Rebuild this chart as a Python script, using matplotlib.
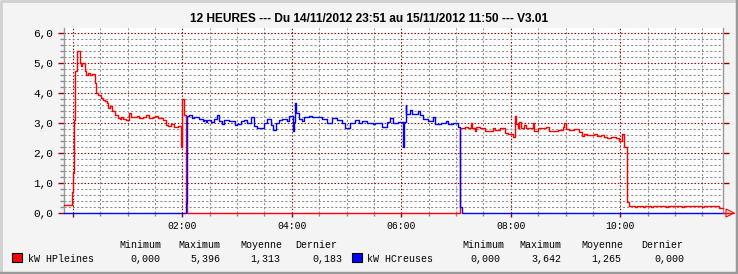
import matplotlib
matplotlib.use('Agg')
import matplotlib.pyplot as plt
import matplotlib.patches as mpatches
from matplotlib.lines import Line2D
from matplotlib.ticker import FixedLocator, FuncFormatter

# ---- data: minutes since 00:00 on 15/11/2012, power in kW (step values) ----
red_t = [-9.8, -0.8, 0.3, 1.4, 2.5, 4.7, 7.5, 9.5, 10.5, 13, 15, 17, 19, 21, 24, 26, 28,
         31, 33, 35, 37, 38.5, 40.5, 43, 46, 49.5, 52, 53, 55, 58.5, 62, 64, 67.5, 70,
         73, 76.5, 80.5, 84, 87.5, 90, 93, 98.5, 102, 104, 108, 111, 115, 118.5, 120,
         122, 124, 125.5,
         424.7, 429.5, 433.1, 436, 437.5, 440.4, 442.2, 445.8, 451.3, 460.4, 462.2,
         467.6, 473.1, 476.7, 482.2, 484.7, 485.8, 487.6, 489.5, 491.3, 494.9, 496.7,
         504, 505.8, 509.5, 518.5, 522.2, 525.8, 531.3, 536.7, 538.6, 540.4, 544, 549.5,
         555, 558.5, 560.4, 564, 571.3, 574.9, 578.5, 582.2, 585.8, 589.4, 594.9, 598.5,
         602.2, 604,
         606.9, 609, 616, 618, 625, 627, 634, 636, 650, 652, 668, 670, 690, 692, 708, 712.5]
red_v = [0.25, 0.71, 1.33, 3.1, 4.71, 5.4, 4.97, 4.88, 4.97, 4.71, 4.6, 4.65, 4.6, 4.63,
         4.32, 3.99, 3.93, 3.82, 3.77, 3.71, 3.66, 3.5, 3.55, 3.38, 3.27, 3.16, 3.12, 3.18,
         3.14, 3.1, 3.32, 3.2, 3.19, 3.24, 3.17, 3.19, 3.27, 3.16, 3.19, 3.22, 3.16, 3.1,
         2.93, 2.9, 2.95, 2.87, 2.9, 2.21, 3.79, 3.27, 0.3, 0.0,
         2.82, 2.87, 2.82, 2.99, 2.82, 2.71, 2.87, 2.82, 2.74, 2.82, 2.77, 2.82, 2.66,
         2.61, 2.52, 3.21, 2.96, 2.82, 3.02, 2.82, 2.93, 2.82, 2.99, 2.71, 2.82, 2.87,
         2.74, 2.71, 2.77, 2.87, 2.99, 2.8, 2.77, 2.79, 2.69, 2.57, 2.61, 2.59, 2.61,
         2.57, 2.59, 2.52, 2.49, 2.52, 2.49, 2.38, 2.61, 2.2,
         0.38, 0.24, 0.2, 0.24, 0.2, 0.24, 0.2, 0.24, 0.2, 0.24, 0.2, 0.24, 0.2, 0.24,
         0.18, 0.18]
blue_t = [-9.8, 124, 125.1, 127.6, 130.6, 133.1, 138.5, 142.2, 144, 145.8, 147.6, 151.3,
          154.9, 158.5, 160.4, 163.3, 165.8, 171.3, 177.8, 180.4, 184, 187.6, 191.3, 194.9,
          198.5, 202.2, 209.5, 213.1, 216.8, 219.3, 222.9, 225.8, 229.4, 234.9, 236.7,
          238.6, 240.8, 242.2, 243.6, 244.7, 247.6, 251.3, 253.1, 258.5, 262.2, 273.1,
          278.5, 284, 289.4, 294.9, 298.5, 304, 309.5, 313.1, 316.7, 322.2, 329.5, 331.3,
          338.5, 344, 347.6, 351.3, 356.7, 361.4, 362.9, 364.7, 365.5, 369.5, 371.3,
          378.5, 380.4, 384, 389.5, 394.9, 396.8, 404, 409.4, 411.3, 416.7, 422.2, 424.7,
          426, 712.5]
blue_v = [0.0, 0.33, 3.23, 3.27, 3.16, 3.2, 3.14, 3.06, 3.1, 3.02, 3.1, 3.02, 3.14, 3.27,
          3.06, 2.97, 3.08, 3.06, 2.92, 2.97, 3.06, 3.1, 3.0, 3.2, 2.88, 2.82, 3.0, 3.14,
          2.94, 2.77, 3.0, 3.08, 3.14, 3.06, 3.23, 3.21, 2.71, 3.04, 3.66, 3.33, 3.14,
          3.07, 3.18, 3.23, 3.18, 3.14, 2.99, 3.16, 3.1, 2.99, 2.84, 2.99, 3.1, 2.99, 3.07,
          2.99, 2.96, 2.99, 2.87, 3.04, 3.16, 2.99, 3.04, 2.21, 3.04, 3.6, 3.29, 3.43,
          3.29, 3.38, 3.26, 3.14, 3.07, 3.18, 2.96, 2.99, 3.07, 2.96, 2.99, 2.87, 0.2,
          0.0, 0.0]

y_ticks = [0, 1, 2, 3, 4, 5, 6]
x_major = [0, 120, 240, 360, 480, 600]
stat_heads = ['Minimum', 'Maximum', 'Moyenne', 'Dernier']
stats_hp = ['0,000', '5,396', '1,313', '0,183']
stats_hc = ['0,000', '3,642', '1,265', '0,000']

W, H = 738, 274
bg = '#f4f4f4'
dark_red = '#960000'
grey = '#8c8c8c'
mono = ['Liberation Mono', 'DejaVu Sans Mono']

fig = plt.figure(figsize=(W / 100, H / 100), dpi=100, facecolor=bg)
ax = fig.add_axes([64 / W, 61 / H, 659 / W, 185 / H])
ax.set_facecolor('white')
ax.set_xlim(-9.6, 712.5)
ax.set_ylim(0, 6.15)

# grid: grey dotted every 0.2 kW / 30 min, dark red dotted on the major steps
y_minor = [i / 5 for i in range(31) if i % 5]
x_minor = [m for m in range(30, 720, 30) if m % 120]
ax.yaxis.set_major_locator(FixedLocator(y_ticks))
ax.yaxis.set_minor_locator(FixedLocator(y_minor))
ax.xaxis.set_major_locator(FixedLocator(x_major))
ax.xaxis.set_minor_locator(FixedLocator(x_minor))
ax.grid(which='minor', color=grey, lw=0.75, ls=(0, (2, 2)))
ax.grid(which='major', color=dark_red, lw=0.8, ls=(0, (1.3, 1.7)))
ax.set_axisbelow(True)

ax.yaxis.set_major_formatter(FuncFormatter(lambda v, p: f'{v:.1f}'.replace('.', ',')))
ax.xaxis.set_major_formatter(FuncFormatter(
    lambda v, p: '' if v <= 0 else f'{int(v // 60):02d}:{int(v % 60):02d}'))

ax.tick_params(axis='y', which='major', color=dark_red, length=4, width=1, right=True,
               labelsize=8, pad=4)
ax.tick_params(axis='y', which='minor', color=grey, length=3, width=1, right=False)
ax.tick_params(axis='x', which='major', color=dark_red, length=3, width=1,
               labelsize=7, pad=3)
ax.tick_params(axis='x', which='minor', color=grey, length=2, width=1)
for lab in ax.get_yticklabels() + ax.get_xticklabels():
    lab.set_family(mono)

for side in ['top', 'bottom']:
    ax.spines[side].set_visible(False)
for side in ['left', 'right']:
    ax.spines[side].set_color('#999999')
    ax.spines[side].set_linewidth(1)

# series
ax.step(red_t, red_v, where='post', color='#ff0000', lw=1.0, clip_on=False, zorder=3)
ax.step(blue_t, blue_v, where='post', color='#0000ff', lw=1.0, clip_on=False, zorder=3)

# title
fig.text(369 / W, 1 - 19 / H,
         '12 HEURES --- Du 14/11/2012 23:51 au 15/11/2012 11:50 --- V3.01',
         ha='center', va='center', fontsize=8.6, fontweight='bold',
         family=['Liberation Sans', 'DejaVu Sans'])

# arrow at end of x axis
fig.add_artist(Line2D([723 / W, 734 / W], [1 - 213 / H, 1 - 213 / H],
                      color='#ff0000', lw=0.8))
fig.add_artist(mpatches.Polygon([[726 / W, 1 - 209 / H], [734 / W, 1 - 213 / H],
                                 [726 / W, 1 - 217 / H]], closed=True,
                                fill=False, edgecolor='#ff0000', lw=0.8))

# legend / statistics
def legend_row(x_sq, x_lab, label, color, head_x, val_x, vals):
    fig.add_artist(mpatches.Rectangle((x_sq / W, 1 - 262 / H), 10 / W, 9 / H,
                                      facecolor=color, edgecolor='black', lw=0.8))
    fig.text(x_lab / W, 1 - 259.5 / H, label, ha='left', va='center',
             fontsize=7.2, family=mono)
    for hx, head in zip(head_x, stat_heads):
        fig.text(hx / W, 1 - 245.5 / H, head, ha='center', va='center',
                 fontsize=7.2, family=mono)
    for vx, val in zip(val_x, vals):
        fig.text(vx / W, 1 - 259.5 / H, val, ha='center', va='center',
                 fontsize=7.2, family=mono)

legend_row(12, 28, 'kW HPleines', '#ff0000', [140, 199, 261, 316],
           [145, 205, 265, 327], stats_hp)
legend_row(352, 367, 'kW HCreuses', '#0000ff', [483, 540, 602, 662],
           [485, 546, 606, 669], stats_hc)

# frame around the picture
fig.add_artist(Line2D([1 / W, 1 / W, 1 - 1 / W], [0, 1 - 1 / H, 1 - 1 / H],
                      color='#d0d0d0', lw=2))
fig.add_artist(Line2D([1 / W, 1 - 1.5 / W, 1 - 1.5 / W], [1.5 / H, 1.5 / H, 1],
                      color='#9a9a9a', lw=2.5))

fig.savefig('out.png', dpi=100, facecolor=bg)
